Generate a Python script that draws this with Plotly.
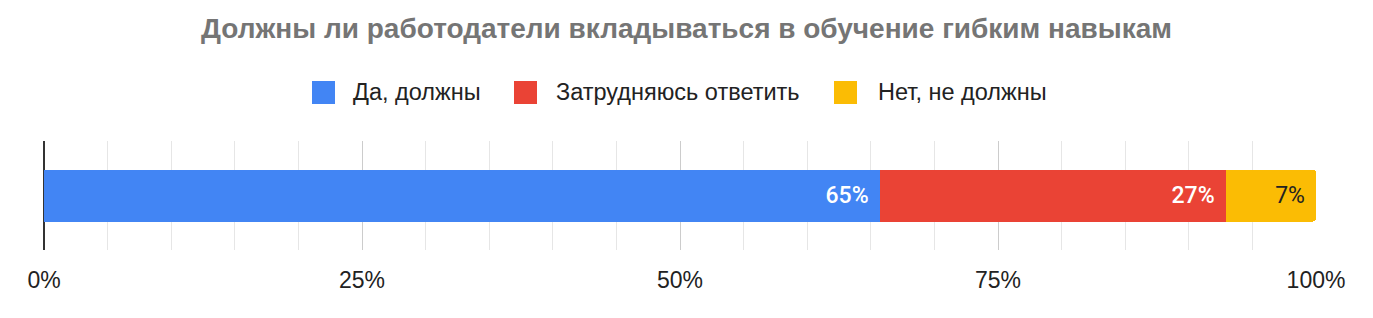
import plotly.graph_objects as go

# ---- data ----
title_text = "Должны ли работодатели вкладываться в обучение гибким навыкам"
category = ["Ответ"]
series_names = ["Да, должны", "Затрудняюсь ответить", "Нет, не должны"]
series_values = [65.7, 27.2, 7.1]
series_labels = ["65%", "27%", "7%"]
tick_values = [0, 25, 50, 75, 100]
tick_labels = ["0%", "25%", "50%", "75%", "100%"]

# ---- styles ----
series_colors = ["#4285F4", "#EA4335", "#FBBC04"]
label_colors = ["#FFFFFF", "#FFFFFF", "#222222"]
label_weights = [500, 500, 400]

W, H = 1373, 318
L, R, T, B = 44, 57, 141, 68
FONT = "Liberation Sans, Arial, sans-serif"

fig = go.Figure()
for name, val, lab, col, lcol, lw in zip(series_names, series_values, series_labels,
                                         series_colors, label_colors, label_weights):
    fig.add_trace(go.Bar(
        y=category, x=[val], name=name, orientation="h",
        marker=dict(color=col, line=dict(width=0)),
        text=[lab], texttemplate="%{text}\u00a0\u200a",
        textposition="inside", insidetextanchor="end",
        textfont=dict(color=lcol, size=23, family="Roboto", weight=lw),
        showlegend=False, hoverinfo="skip",
    ))

# manual legend (pixel positions converted to paper coords)
pw = W - L - R
ph = H - T - B
def px(x):
    return (x - L) / pw
def py(y):
    return (H - B - y) / ph

legend_sq_x = [312, 514, 834]
legend_tx_x = [351, 554, 876]
shapes = []
annotations = []
for name, col, sx, tx in zip(series_names, series_colors, legend_sq_x, legend_tx_x):
    shapes.append(dict(type="rect", xref="paper", yref="paper",
                       x0=px(sx), x1=px(sx + 23), y0=py(104), y1=py(81),
                       fillcolor=col, line=dict(width=0), layer="above"))
    annotations.append(dict(x=px(tx), y=py(92.5), xref="paper", yref="paper",
                            text=name, showarrow=False, xanchor="left", yanchor="middle",
                            font=dict(size=23.5, color="#222222", family=FONT)))

fig.update_layout(
    width=W, height=H,
    margin=dict(l=L, r=R, t=T, b=B, pad=0),
    paper_bgcolor="white", plot_bgcolor="white",
    barmode="stack", bargap=0.523, barcornerradius=3,
    title=dict(text=title_text, x=0.5, xanchor="center", y=1 - 28 / H, yanchor="middle",
               font=dict(size=28, color="#757575", family=FONT, weight="bold")),
    shapes=shapes, annotations=annotations,
    xaxis=dict(range=[0, 100], tickvals=tick_values, ticktext=tick_labels,
               showgrid=True, gridcolor="#cccccc", gridwidth=1,
               minor=dict(dtick=5, showgrid=True, gridcolor="#e6e6e6", gridwidth=1),
               zeroline=True, zerolinecolor="#333333", zerolinewidth=2,
               showline=False, ticks="", ticklabelstandoff=14,
               tickfont=dict(size=23, color="#222222", family=FONT), fixedrange=True),
    yaxis=dict(showticklabels=False, showgrid=False, zeroline=False, fixedrange=True,
               range=[-0.5, 0.5]),
    uniformtext=dict(mode=False),
)

fig.write_html("out.html")
